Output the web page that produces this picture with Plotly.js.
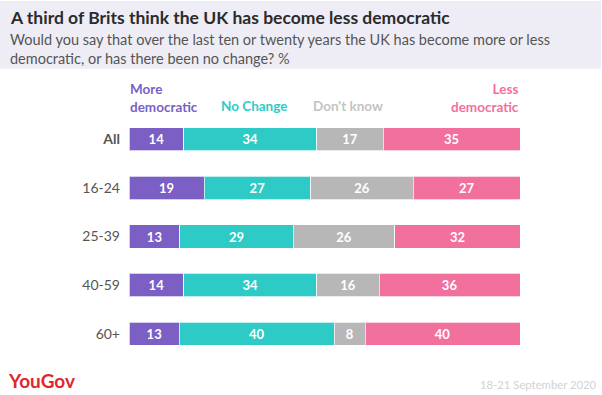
<!DOCTYPE html>
<html>
<head>
<meta charset="utf-8">
<script src="https://cdn.plot.ly/plotly-3.0.1.min.js"></script>
<style>html,body{margin:0;padding:0;background:#fff;}#chart{width:602px;height:395px;}</style>
</head>
<body>
<div id="chart"></div>
<script>
const groups = ["All", "16-24", "25-39", "40-59", "60+"];
const groupLabels = ["<b>All</b>", "16-24", "25-39", "40-59", "60+"];
const seriesNames = ["More democratic", "No Change", "Don't know", "Less democratic"];
const moreDemocratic = [14, 19, 13, 14, 13];
const noChange = [34, 27, 29, 34, 40];
const dontKnow = [17, 26, 26, 16, 8];
const lessDemocratic = [35, 27, 32, 36, 40];
const seriesColors = ["#7b5fc5", "#2ecbc6", "#b7b7b7", "#f2709e"];

const W = 602, H = 395;
const L = 129, R = 520, T = 114.5, B = 358.5;
const px = v => (v - L) / (R - L);
const py = v => (B - v) / (B - T);

const FONT = "Lato, 'Open Sans', sans-serif";
const allSeries = [moreDemocratic, noChange, dontKnow, lessDemocratic];
const traces = allSeries.map((vals, i) => ({
  type: "bar",
  orientation: "h",
  name: seriesNames[i],
  y: groups,
  x: vals,
  text: vals.map(String),
  texttemplate: "%{text}",
  textposition: "inside",
  insidetextanchor: "middle",
  textfont: {family: FONT, size: 13, color: "#ffffff", weight: 700},
  marker: {color: seriesColors[i], line: {color: "rgba(255,255,255,0.7)", width: 1}},
  hoverinfo: "skip"
}));

const annotations = [
  {text: "<b>A third of Brits think the UK has become less democratic</b>", x: px(8), y: py(17), xanchor: "left", yanchor: "middle",
   font: {family: FONT, size: 17.5, color: "#2b2b2b"}},
  {text: "Would you say that over the last ten or twenty years the UK has become more or less<br>democratic, or has there been no change? %", x: px(8), y: py(48.5), xanchor: "left", yanchor: "middle", align: "left",
   font: {family: FONT, size: 14.5, color: "#555555"}},
  {text: "<b>More<br>democratic</b>", x: px(128), y: py(97), xanchor: "left", yanchor: "middle", align: "left",
   font: {family: FONT, size: 13.5, color: seriesColors[0]}},
  {text: "<b>No Change</b>", x: px(254), y: py(105), xanchor: "center", yanchor: "middle",
   font: {family: FONT, size: 13.5, color: seriesColors[1]}},
  {text: "<b>Don't know</b>", x: px(348), y: py(105), xanchor: "center", yanchor: "middle",
   font: {family: FONT, size: 13.5, color: "#c4c4c4"}},
  {text: "<b>Less<br>democratic</b>", x: px(521), y: py(97), xanchor: "right", yanchor: "middle", align: "right",
   font: {family: FONT, size: 13.5, color: seriesColors[3]}},
  {text: "<b>YouGov</b>", x: px(6), y: py(381), xanchor: "left", yanchor: "middle",
   font: {family: FONT, size: 19, color: "#e1262d"}},
  {text: "18-21 September 2020", x: px(599), y: py(385), xanchor: "right", yanchor: "middle",
   font: {family: FONT, size: 11.3, color: "#d2d2d2"}}
].map(a => Object.assign({xref: "paper", yref: "paper", showarrow: false}, a));

const layout = {
  width: W, height: H,
  margin: {l: L, r: W - R, t: T, b: H - B, pad: 0},
  paper_bgcolor: "#ffffff",
  plot_bgcolor: "#ffffff",
  barmode: "stack",
  barnorm: "percent",
  bargap: 0.52,
  showlegend: false,
  xaxis: {range: [0, 100], visible: false, fixedrange: true},
  yaxis: {
    type: "category", autorange: "reversed",
    tickvals: groups, ticktext: groupLabels,
    showgrid: false, zeroline: false, showline: false, ticks: "",
    ticklabelstandoff: 8,
    tickfont: {family: FONT, size: 14, color: "#555555"}
  },
  shapes: [
    {type: "rect", xref: "paper", yref: "paper", x0: px(0), x1: px(601), y0: py(68), y1: py(0),
     fillcolor: "#eeedf5", line: {width: 0}, layer: "below"}
  ],
  annotations: annotations
};

Plotly.newPlot("chart", traces, layout, {displayModeBar: false, staticPlot: true});
</script>
</body>
</html>
